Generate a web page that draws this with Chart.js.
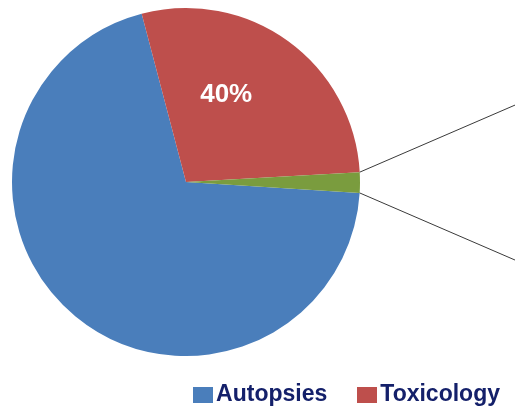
<!DOCTYPE html>
<html>
<head>
<meta charset="utf-8">
<script src="https://cdn.jsdelivr.net/npm/chart.js@4.4.1/dist/chart.umd.min.js"></script>
<style>
  html, body { margin: 0; padding: 0; background: #ffffff; }
  #wrap { position: relative; width: 515px; height: 412px; overflow: hidden; }
  #legend { position: absolute; right: 15px; top: 380px; display: flex; align-items: center;
            font-family: "Liberation Sans", Arial, sans-serif; font-weight: bold; font-size: 23px; color: #14206a; white-space: nowrap; }
  .item { display: flex; align-items: center; margin-left: 30px; }
  .box { width: 20px; height: 16px; margin-right: 3px; margin-top: 2px; }
</style>
</head>
<body>
<div id="wrap">
  <canvas id="c" width="515" height="412"></canvas>
  <div id="legend"></div>
</div>
<script>
const categories = ["Autopsies", "Toxicology", "Other"];
const values = [69.9, 28.2, 1.9];
const sliceLabels = ["", "40%", ""];
const legendShown = ["Autopsies", "Toxicology"];
const colors = ["#4a7ebb", "#be4f4c", "#7a9c3e"];

const decor = {
  id: 'decor',
  afterDatasetsDraw(chart) {
    const ctx = chart.ctx;
    const arcs = chart.getDatasetMeta(0).data;
    const g = arcs[2].getProps(['x', 'y', 'startAngle', 'endAngle', 'outerRadius'], true);
    const slope = 0.432;
    const edge = chart.width;
    ctx.save();
    ctx.strokeStyle = '#3a3a3a';
    ctx.lineWidth = 1;
    const p1 = { x: g.x + g.outerRadius * Math.cos(g.startAngle), y: g.y + g.outerRadius * Math.sin(g.startAngle) };
    const p2 = { x: g.x + g.outerRadius * Math.cos(g.endAngle), y: g.y + g.outerRadius * Math.sin(g.endAngle) };
    ctx.beginPath();
    ctx.moveTo(p1.x, p1.y);
    ctx.lineTo(edge, p1.y - slope * (edge - p1.x));
    ctx.moveTo(p2.x, p2.y);
    ctx.lineTo(edge, p2.y + slope * (edge - p2.x));
    ctx.stroke();
    ctx.fillStyle = '#ffffff';
    ctx.font = 'bold 26px "Liberation Sans", Arial, sans-serif';
    ctx.textAlign = 'center';
    ctx.textBaseline = 'middle';
    arcs.forEach((a, i) => {
      if (!sliceLabels[i]) return;
      const p = a.getProps(['x', 'y', 'startAngle', 'endAngle', 'outerRadius'], true);
      const ang = p.startAngle + 0.39 * (p.endAngle - p.startAngle);
      const r = 0.55 * p.outerRadius;
      ctx.fillText(sliceLabels[i], p.x + r * Math.cos(ang), p.y + r * Math.sin(ang));
    });
    ctx.restore();
  }
};

const chart = new Chart(document.getElementById('c'), {
  type: 'pie',
  data: {
    labels: categories,
    datasets: [{ data: values, backgroundColor: colors, borderWidth: 0 }]
  },
  options: {
    responsive: false,
    animation: false,
    rotation: 93.6,
    layout: { padding: { left: 12, top: 8, right: 155, bottom: 56 } },
    plugins: { legend: { display: false }, tooltip: { enabled: false } }
  },
  plugins: [decor]
});

const legendEl = document.getElementById('legend');
chart.options.plugins.legend.labels.generateLabels(chart)
  .filter(it => legendShown.includes(it.text))
  .forEach(it => {
    const d = document.createElement('div');
    d.className = 'item';
    const b = document.createElement('span');
    b.className = 'box';
    b.style.background = it.fillStyle;
    const t = document.createElement('span');
    t.textContent = it.text;
    d.appendChild(b); d.appendChild(t);
    legendEl.appendChild(d);
  });
</script>
</body>
</html>
